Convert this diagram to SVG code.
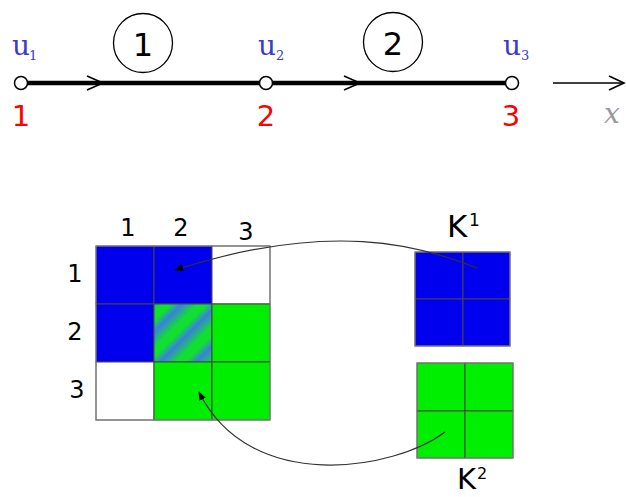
<svg xmlns="http://www.w3.org/2000/svg" width="626" height="497" viewBox="0 0 626 497">
<defs>
<style>
.num{font-family:"DejaVu Sans",sans-serif;}
.red{fill:#ff0000;font-size:29px;text-anchor:middle;}
.u{fill:#3a3ad0;font-family:"DejaVu Serif","Liberation Serif",serif;font-size:28px;}
.sub{fill:#3a3ad0;font-family:"DejaVu Serif","Liberation Serif",serif;font-size:13px;}
.lbl{fill:#000;font-size:24px;text-anchor:middle;}
.cell{stroke:#444;stroke-width:1;}
.chev{fill:none;stroke:#000;stroke-width:1.6;}
.conn{fill:none;stroke:#333;stroke-width:1.2;}
</style>
<linearGradient id="stripe" gradientUnits="userSpaceOnUse" x1="150" y1="300" x2="168" y2="318" spreadMethod="repeat">
<stop offset="0" stop-color="#3a80e0"/>
<stop offset="0.45" stop-color="#10e030"/>
<stop offset="0.7" stop-color="#10e030"/>
<stop offset="1" stop-color="#3a80e0"/>
</linearGradient>
<marker id="ah" viewBox="0 0 10 10" refX="9" refY="5" markerWidth="9" markerHeight="9" orient="auto" markerUnits="userSpaceOnUse">
<path d="M0,1 L10,5 L0,9 Z" fill="#000"/>
</marker>
</defs>

<g id="beam">
<line x1="21" y1="83" x2="512" y2="83" stroke="#000" stroke-width="4.5"/>
<path class="chev" d="M87,76 L103,83 L87,90"/>
<path class="chev" d="M344,76 L360,83 L344,90"/>
</g>
<g id="node1">
<circle cx="21" cy="83" r="6.5" fill="#fff" stroke="#000" stroke-width="1.5"/>
<text class="u" x="12" y="55">u</text><text class="sub" x="29" y="60">1</text>
<text class="num red" x="21" y="126">1</text>
</g>
<g id="node2">
<circle cx="266" cy="83" r="6.5" fill="#fff" stroke="#000" stroke-width="1.5"/>
<text class="u" x="258" y="55">u</text><text class="sub" x="276" y="60">2</text>
<text class="num red" x="266" y="126">2</text>
</g>
<g id="node3">
<circle cx="512" cy="83" r="6.5" fill="#fff" stroke="#000" stroke-width="1.5"/>
<text class="u" x="503" y="55">u</text><text class="sub" x="521" y="60">3</text>
<text class="num red" x="511" y="126">3</text>
</g>
<g id="elem1">
<circle cx="143" cy="43" r="29.5" fill="none" stroke="#000" stroke-width="1.3"/>
<text class="num" x="143" y="56" font-size="32" text-anchor="middle">1</text>
</g>
<g id="elem2">
<circle cx="393" cy="42" r="29.5" fill="none" stroke="#000" stroke-width="1.3"/>
<text class="num" x="393" y="55" font-size="32" text-anchor="middle">2</text>
</g>
<g id="axis">
<line x1="553" y1="83" x2="624" y2="83" stroke="#000" stroke-width="1.6"/>
<path class="chev" d="M609,76 L624,83 L609,90"/>
<text x="612" y="123" font-family="'DejaVu Serif','Liberation Serif',serif" font-style="italic" font-size="28" fill="#999" text-anchor="middle">x</text>
</g>

<g id="global-matrix">
<rect class="cell" x="96" y="246" width="58" height="58" fill="#0000ee"/>
<rect class="cell" x="154" y="246" width="58" height="58" fill="#0000ee"/>
<rect class="cell" x="212" y="246" width="58" height="58" fill="#fff"/>
<rect class="cell" x="96" y="304" width="58" height="58" fill="#0000ee"/>
<rect class="cell" x="154" y="304" width="58" height="58" fill="url(#stripe)"/>
<rect class="cell" x="212" y="304" width="58" height="58" fill="#00ee00"/>
<rect class="cell" x="96" y="362" width="58" height="58" fill="#fff"/>
<rect class="cell" x="154" y="362" width="58" height="58" fill="#00ee00"/>
<rect class="cell" x="212" y="362" width="58" height="58" fill="#00ee00"/>
<rect x="96" y="246" width="174" height="174" fill="none" stroke="#888" stroke-width="1"/>
<text class="num lbl" x="128" y="236">1</text>
<text class="num lbl" x="181" y="236">2</text>
<text class="num lbl" x="246" y="240">3</text>
<text class="num lbl" x="75" y="282">1</text>
<text class="num lbl" x="75" y="340">2</text>
<text class="num lbl" x="77" y="398">3</text>
</g>

<g id="K1">
<rect class="cell" x="415" y="252" width="48" height="47" fill="#0000ee"/>
<rect class="cell" x="463" y="252" width="47" height="47" fill="#0000ee"/>
<rect class="cell" x="415" y="299" width="48" height="47" fill="#0000ee"/>
<rect class="cell" x="463" y="299" width="47" height="47" fill="#0000ee"/>
<rect x="415" y="252" width="95" height="94" fill="none" stroke="#888"/>
<text class="num" x="447" y="237" font-size="31">K</text>
<text class="num" x="469" y="226" font-size="17">1</text>
</g>

<g id="K2">
<rect class="cell" x="417" y="363" width="48" height="48" fill="#00ee00"/>
<rect class="cell" x="465" y="363" width="48" height="48" fill="#00ee00"/>
<rect class="cell" x="417" y="411" width="48" height="47" fill="#00ee00"/>
<rect class="cell" x="465" y="411" width="48" height="47" fill="#00ee00"/>
<rect x="417" y="363" width="96" height="95" fill="none" stroke="#888"/>
<text class="num" x="457" y="489" font-size="29">K</text>
<text class="num" x="477" y="479" font-size="16">2</text>
</g>

<g id="connectors">
<path class="conn" d="M477,268 C420,245 330,220 175,270" marker-end="url(#ah)"/>
<path class="conn" d="M445,432 C395,470 250,495 199,392" marker-end="url(#ah)"/>
</g>
</svg>
